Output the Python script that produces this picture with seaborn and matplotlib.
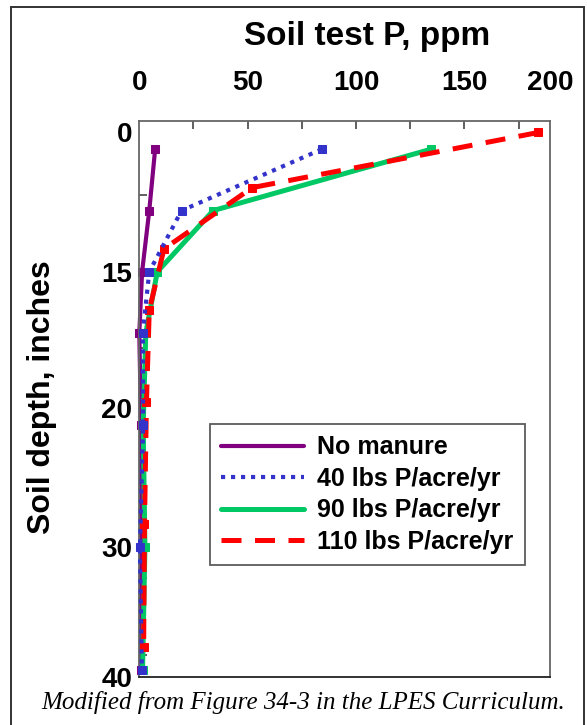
import numpy as np
import pandas as pd
import seaborn as sns
import matplotlib.pyplot as plt
from matplotlib.patches import Rectangle

# depths (inches) where each treatment was sampled
depth = [2, 6, 10, 14, 20, 28, 36]
depth_110 = [0.9, 4.5, 8.5, 12.5, 18.5, 26.5, 34.5]

p_none = [7.3, 4.6, 1.3, 0.0, 0.8, 0.8, 0.8]
p_40 = [84.1, 19.5, 4.6, 1.6, 1.8, 0.3, 1.2]
p_90 = [134.4, 34.1, 8.3, 3.0, 1.8, 2.6, 1.5]
p_110 = [184.0, 52.1, 11.4, 4.6, 3.3, 2.4, 2.0]

labels = ["No manure", "40 lbs P/acre/yr", "90 lbs P/acre/yr", "110 lbs P/acre/yr"]
colors = ["#800080", "#3333CC", "#00C864", "#FF0000"]

x_tick_vals = [0, 50, 100, 150, 189.6]
x_tick_text = ["0", "50", "100", "150", "200"]
y_tick_vals = [0.87, 10.0, 18.9, 28.0, 36.45]
y_tick_text = ["0", "15", "20", "30", "40"]

sns.set_style("white")
plt.rcParams["font.family"] = ["Liberation Sans", "DejaVu Sans"]
plt.rcParams["font.weight"] = "bold"
plt.rcParams["text.color"] = "black"
plt.rcParams["xtick.labelcolor"] = "black"
plt.rcParams["ytick.labelcolor"] = "black"

fig = plt.figure(figsize=(5.87, 7.25), dpi=100)
ax = fig.add_axes([0.2373, 0.0666, 0.7002, 0.7669])

series = [
    (p_none, depth, dict(lw=3.0, ls="-"), 2),
    (p_40, depth, dict(lw=3.0, ls=(0, (1, 1.4))), 5),
    (p_90, depth, dict(lw=3.6, ls="-"), 3),
    (p_110, depth_110, dict(lw=3.6, ls=(0, (4.0, 2.7))), 4),
]
for (vals, dep, style, z), lab, col in zip(series, labels, colors):
    df = pd.DataFrame({"ppm": vals, "depth": dep})
    sns.lineplot(data=df, x="ppm", y="depth", sort=False, estimator=None,
                 color=col, marker="s", markersize=6, markeredgecolor=col,
                 label=lab, ax=ax, zorder=z, clip_on=False,
                 dash_capstyle="butt", **style)

ax.set_xlim(0, 189.6)
ax.set_ylim(36.45, 0.13)
ax.set_xlabel("")
ax.set_ylabel("")

ax.xaxis.remove_overlapping_locs = False
ax.yaxis.remove_overlapping_locs = False
ax.xaxis.tick_top()
ax.set_xticks(np.arange(25, 176, 25))
ax.set_xticklabels([])
ax.set_xticks(x_tick_vals, x_tick_text, minor=True)
ax.set_yticks(np.arange(5, 36, 5))
ax.set_yticklabels([])
ax.set_yticks(y_tick_vals, y_tick_text, minor=True)
ax.tick_params(which="major", direction="in", length=6, width=1.2,
               color="#444444", top=True, left=True, bottom=False, right=False)
ax.tick_params(axis="x", which="minor", length=0, top=True, labeltop=True,
               bottom=False, labelbottom=False, labelsize=20, pad=18)
ax.tick_params(axis="y", which="minor", length=0, labelsize=20, pad=5)
for s in ax.spines.values():
    s.set_color("#666666")
    s.set_linewidth(1.3)
ax.spines["bottom"].set_color("#222222")

leg = ax.legend(loc="upper left", bbox_to_anchor=(0.172, 0.4545), borderaxespad=0,
                fontsize=18, frameon=True, fancybox=False, handlelength=3.3,
                handletextpad=0.55, labelspacing=0.3, borderpad=0.45)
leg.get_frame().set_edgecolor("#333333")
leg.get_frame().set_linewidth(1.3)
for h in leg.legend_handles:
    h.set_marker("")

fig.text(367 / 587, 1 - 37 / 725, "Soil test P, ppm", fontsize=24,
         fontweight="bold", ha="center", va="center")
fig.text(42 / 587, 1 - 397 / 725, "Soil depth, inches", fontsize=23,
         fontweight="bold", ha="center", va="center", rotation=90)
fig.text(41 / 587, 1 - 703 / 725, "Modified from Figure 34-3 in the LPES Curriculum.",
         fontsize=18, fontweight="normal", style="italic",
         family=["Liberation Serif", "DejaVu Serif"], ha="left", va="center")

fig.patches.append(Rectangle((10.5 / 587, -0.05), (584 - 10.5) / 587, 1.05 - 7 / 725,
                             transform=fig.transFigure, fill=False,
                             edgecolor="#333333", linewidth=1.4, clip_on=False))

fig.savefig("out.png", dpi=100)
